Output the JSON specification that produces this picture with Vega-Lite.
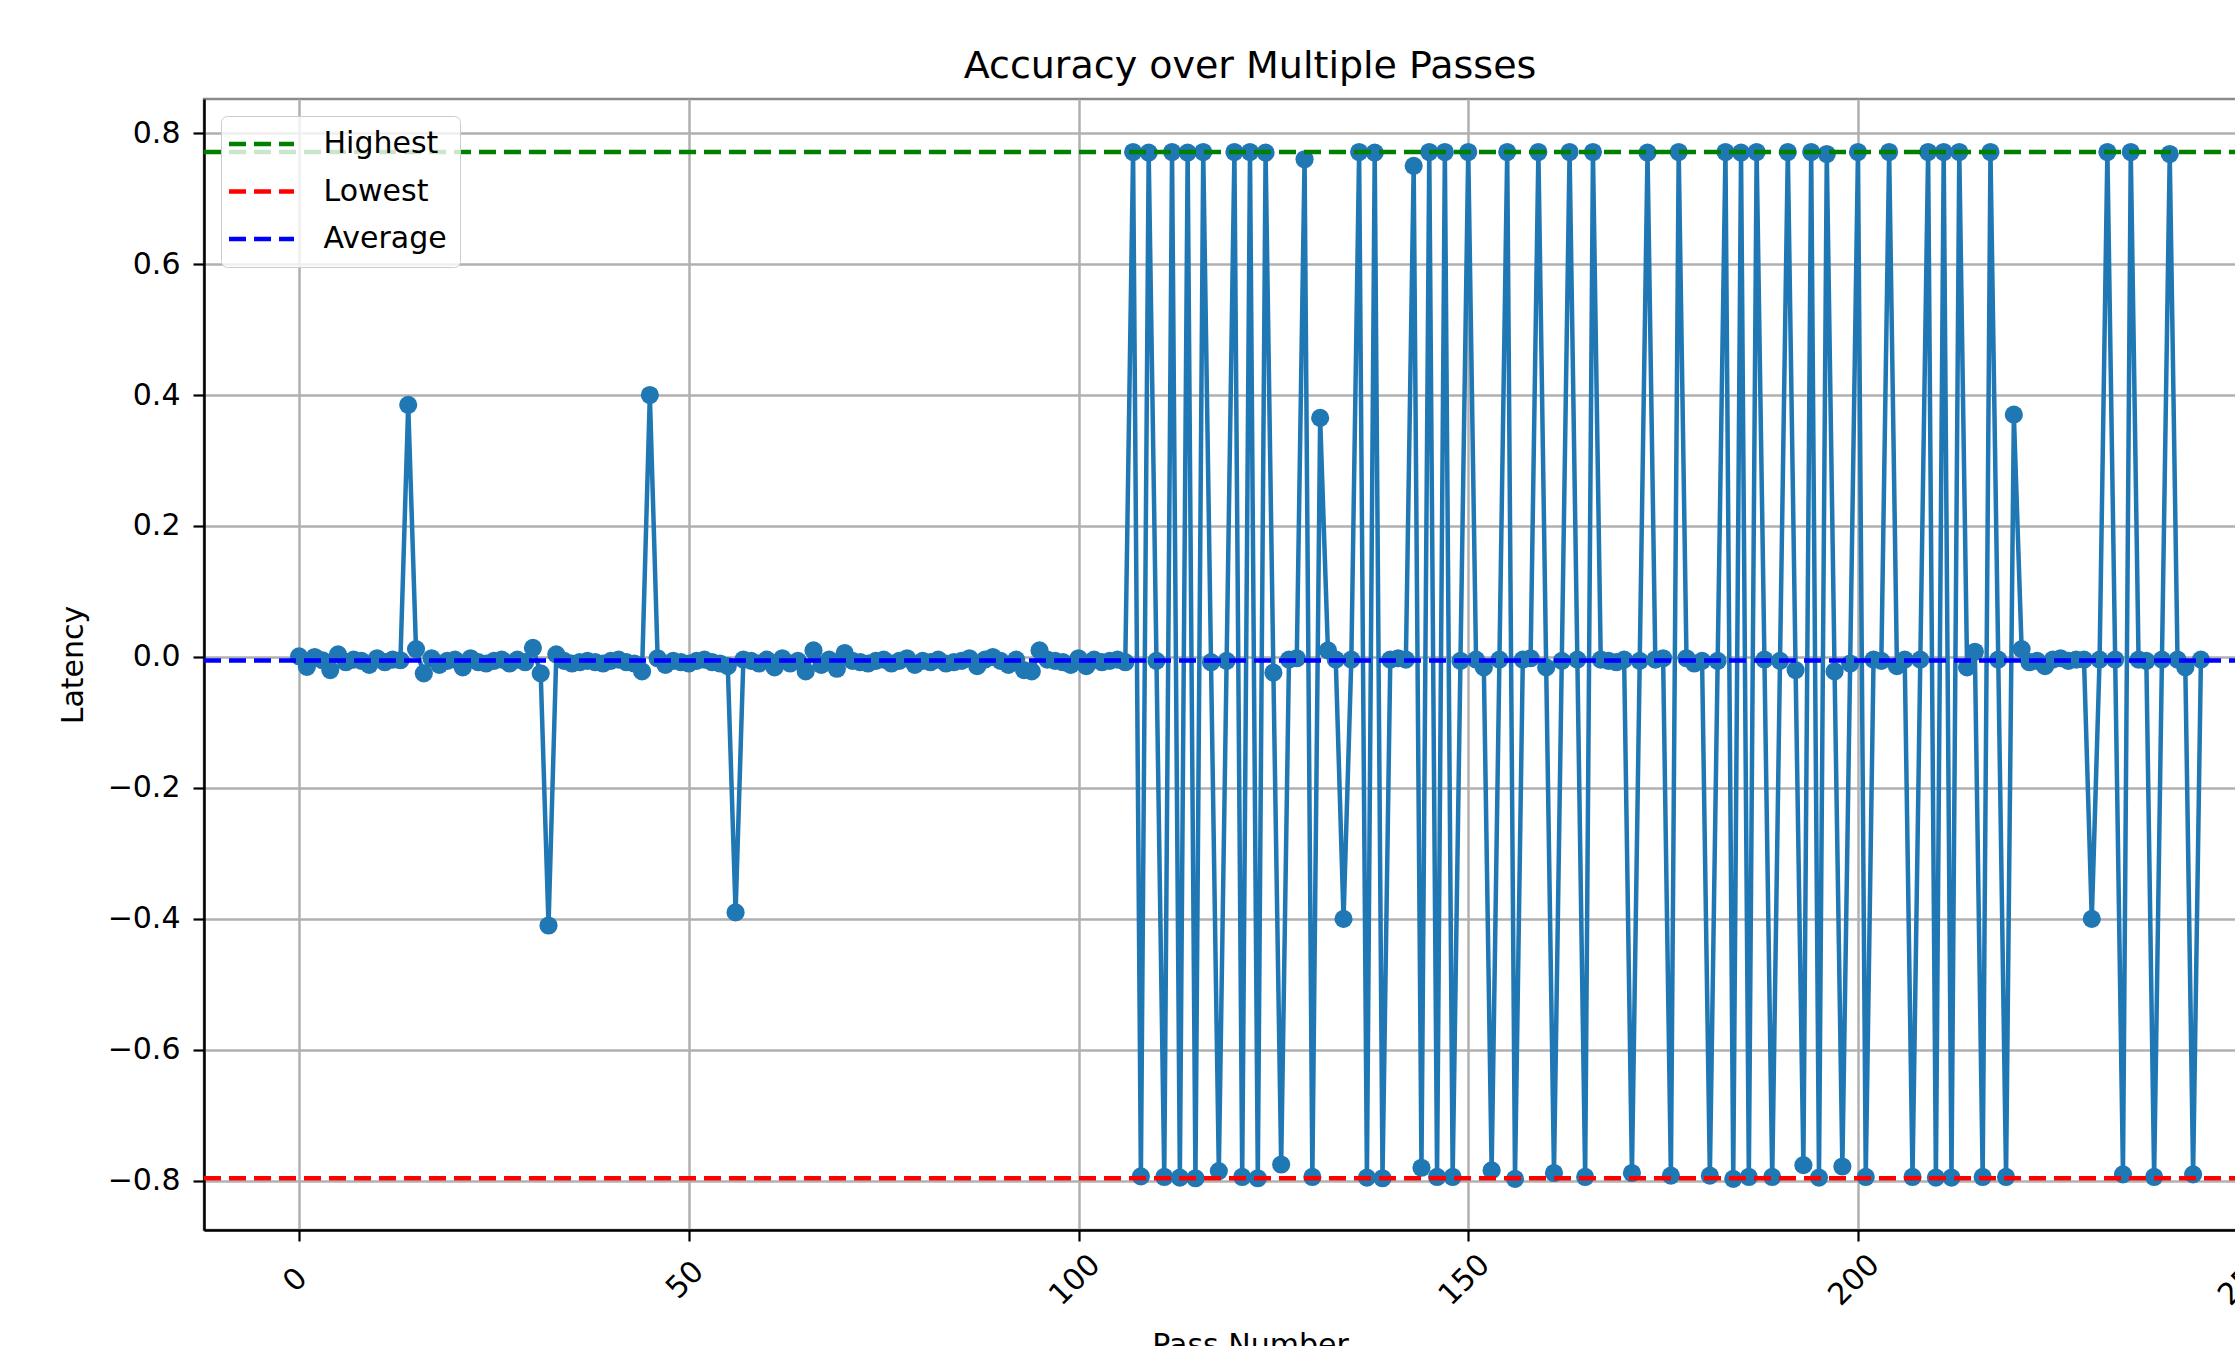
{
  "$schema": "https://vega.github.io/schema/vega-lite/v6.json",
  "autosize": {"type": "none"},
  "padding": {"left": 204, "top": 99, "right": 0, "bottom": 116},
  "width": 2092,
  "height": 1131,
  "background": "white",
  "title": {"text": "Accuracy over Multiple Passes", "fontSize": 38, "font": "DejaVu Sans", "fontWeight": "normal", "color": "#000000", "anchor": "middle", "frame": "group", "offset": 20, "dy": 37, "baseline": "alphabetic"},
  "config": {
    "font": "DejaVu Sans",
    "view": {"stroke": "#8a8a8a", "strokeWidth": 2.5},
    "axis": {
      "labelFont": "DejaVu Sans", "titleFont": "DejaVu Sans",
      "labelFontSize": 30, "titleFontSize": 30, "titleFontWeight": "normal",
      "labelColor": "#000000", "titleColor": "#000000",
      "domainColor": "#000000", "domainWidth": 2.5,
      "tickColor": "#000000", "tickWidth": 2.2, "tickSize": 11,
      "gridColor": "#b0b0b0", "gridWidth": 2.5, "grid": true
    },
    "legend": {"labelFont": "DejaVu Sans"}
  },
  "datasets": {
    "passes": [
      {"pass":0,"latency":0.001},{"pass":1,"latency":-0.015},{"pass":2,"latency":0.0},{"pass":3,"latency":-0.005},{"pass":4,"latency":-0.02},{"pass":5,"latency":0.004},{"pass":6,"latency":-0.008},{"pass":7,"latency":-0.004},{"pass":8,"latency":-0.006},{"pass":9,"latency":-0.012},
      {"pass":10,"latency":-0.002},{"pass":11,"latency":-0.008},{"pass":12,"latency":-0.004},{"pass":13,"latency":-0.005},{"pass":14,"latency":0.385},{"pass":15,"latency":0.012},{"pass":16,"latency":-0.025},{"pass":17,"latency":-0.002},{"pass":18,"latency":-0.012},{"pass":19,"latency":-0.006},
      {"pass":20,"latency":-0.004},{"pass":21,"latency":-0.016},{"pass":22,"latency":-0.002},{"pass":23,"latency":-0.008},{"pass":24,"latency":-0.01},{"pass":25,"latency":-0.006},{"pass":26,"latency":-0.004},{"pass":27,"latency":-0.01},{"pass":28,"latency":-0.004},{"pass":29,"latency":-0.008},
      {"pass":30,"latency":0.014},{"pass":31,"latency":-0.025},{"pass":32,"latency":-0.41},{"pass":33,"latency":0.004},{"pass":34,"latency":-0.006},{"pass":35,"latency":-0.01},{"pass":36,"latency":-0.008},{"pass":37,"latency":-0.006},{"pass":38,"latency":-0.008},{"pass":39,"latency":-0.01},
      {"pass":40,"latency":-0.006},{"pass":41,"latency":-0.004},{"pass":42,"latency":-0.008},{"pass":43,"latency":-0.01},{"pass":44,"latency":-0.022},{"pass":45,"latency":0.4},{"pass":46,"latency":-0.002},{"pass":47,"latency":-0.012},{"pass":48,"latency":-0.006},{"pass":49,"latency":-0.008},
      {"pass":50,"latency":-0.01},{"pass":51,"latency":-0.006},{"pass":52,"latency":-0.004},{"pass":53,"latency":-0.008},{"pass":54,"latency":-0.01},{"pass":55,"latency":-0.014},{"pass":56,"latency":-0.39},{"pass":57,"latency":-0.004},{"pass":58,"latency":-0.006},{"pass":59,"latency":-0.01},
      {"pass":60,"latency":-0.004},{"pass":61,"latency":-0.016},{"pass":62,"latency":-0.002},{"pass":63,"latency":-0.01},{"pass":64,"latency":-0.006},{"pass":65,"latency":-0.022},{"pass":66,"latency":0.01},{"pass":67,"latency":-0.012},{"pass":68,"latency":-0.004},{"pass":69,"latency":-0.018},
      {"pass":70,"latency":0.006},{"pass":71,"latency":-0.006},{"pass":72,"latency":-0.008},{"pass":73,"latency":-0.01},{"pass":74,"latency":-0.006},{"pass":75,"latency":-0.004},{"pass":76,"latency":-0.01},{"pass":77,"latency":-0.006},{"pass":78,"latency":-0.002},{"pass":79,"latency":-0.012},
      {"pass":80,"latency":-0.006},{"pass":81,"latency":-0.008},{"pass":82,"latency":-0.004},{"pass":83,"latency":-0.01},{"pass":84,"latency":-0.008},{"pass":85,"latency":-0.006},{"pass":86,"latency":-0.002},{"pass":87,"latency":-0.014},{"pass":88,"latency":-0.004},{"pass":89,"latency":0.0},
      {"pass":90,"latency":-0.006},{"pass":91,"latency":-0.012},{"pass":92,"latency":-0.004},{"pass":93,"latency":-0.02},{"pass":94,"latency":-0.022},{"pass":95,"latency":0.01},{"pass":96,"latency":-0.004},{"pass":97,"latency":-0.006},{"pass":98,"latency":-0.008},{"pass":99,"latency":-0.012},
      {"pass":100,"latency":-0.002},{"pass":101,"latency":-0.014},{"pass":102,"latency":-0.004},{"pass":103,"latency":-0.008},{"pass":104,"latency":-0.006},{"pass":105,"latency":-0.004},{"pass":106,"latency":-0.008},{"pass":107,"latency":0.771},{"pass":108,"latency":-0.793},{"pass":109,"latency":0.77},
      {"pass":110,"latency":-0.006},{"pass":111,"latency":-0.794},{"pass":112,"latency":0.771},{"pass":113,"latency":-0.795},{"pass":114,"latency":0.77},{"pass":115,"latency":-0.796},{"pass":116,"latency":0.771},{"pass":117,"latency":-0.008},{"pass":118,"latency":-0.785},{"pass":119,"latency":-0.006},
      {"pass":120,"latency":0.771},{"pass":121,"latency":-0.794},{"pass":122,"latency":0.771},{"pass":123,"latency":-0.796},{"pass":124,"latency":0.77},{"pass":125,"latency":-0.024},{"pass":126,"latency":-0.775},{"pass":127,"latency":-0.004},{"pass":128,"latency":-0.002},{"pass":129,"latency":0.76},
      {"pass":130,"latency":-0.794},{"pass":131,"latency":0.365},{"pass":132,"latency":0.01},{"pass":133,"latency":-0.004},{"pass":134,"latency":-0.4},{"pass":135,"latency":-0.004},{"pass":136,"latency":0.771},{"pass":137,"latency":-0.795},{"pass":138,"latency":0.77},{"pass":139,"latency":-0.796},
      {"pass":140,"latency":-0.004},{"pass":141,"latency":-0.002},{"pass":142,"latency":-0.004},{"pass":143,"latency":0.75},{"pass":144,"latency":-0.78},{"pass":145,"latency":0.771},{"pass":146,"latency":-0.794},{"pass":147,"latency":0.771},{"pass":148,"latency":-0.794},{"pass":149,"latency":-0.006},
      {"pass":150,"latency":0.771},{"pass":151,"latency":-0.004},{"pass":152,"latency":-0.016},{"pass":153,"latency":-0.784},{"pass":154,"latency":-0.004},{"pass":155,"latency":0.771},{"pass":156,"latency":-0.797},{"pass":157,"latency":-0.004},{"pass":158,"latency":-0.002},{"pass":159,"latency":0.771},
      {"pass":160,"latency":-0.016},{"pass":161,"latency":-0.788},{"pass":162,"latency":-0.006},{"pass":163,"latency":0.771},{"pass":164,"latency":-0.004},{"pass":165,"latency":-0.794},{"pass":166,"latency":0.771},{"pass":167,"latency":-0.004},{"pass":168,"latency":-0.006},{"pass":169,"latency":-0.008},
      {"pass":170,"latency":-0.004},{"pass":171,"latency":-0.788},{"pass":172,"latency":-0.006},{"pass":173,"latency":0.77},{"pass":174,"latency":-0.004},{"pass":175,"latency":-0.002},{"pass":176,"latency":-0.792},{"pass":177,"latency":0.771},{"pass":178,"latency":-0.002},{"pass":179,"latency":-0.01},
      {"pass":180,"latency":-0.006},{"pass":181,"latency":-0.792},{"pass":182,"latency":-0.006},{"pass":183,"latency":0.771},{"pass":184,"latency":-0.797},{"pass":185,"latency":0.77},{"pass":186,"latency":-0.794},{"pass":187,"latency":0.771},{"pass":188,"latency":-0.004},{"pass":189,"latency":-0.794},
      {"pass":190,"latency":-0.006},{"pass":191,"latency":0.771},{"pass":192,"latency":-0.02},{"pass":193,"latency":-0.776},{"pass":194,"latency":0.771},{"pass":195,"latency":-0.795},{"pass":196,"latency":0.768},{"pass":197,"latency":-0.022},{"pass":198,"latency":-0.778},{"pass":199,"latency":-0.01},
      {"pass":200,"latency":0.771},{"pass":201,"latency":-0.794},{"pass":202,"latency":-0.004},{"pass":203,"latency":-0.006},{"pass":204,"latency":0.771},{"pass":205,"latency":-0.014},{"pass":206,"latency":-0.004},{"pass":207,"latency":-0.794},{"pass":208,"latency":-0.004},{"pass":209,"latency":0.771},
      {"pass":210,"latency":-0.795},{"pass":211,"latency":0.771},{"pass":212,"latency":-0.795},{"pass":213,"latency":0.771},{"pass":214,"latency":-0.016},{"pass":215,"latency":0.008},{"pass":216,"latency":-0.794},{"pass":217,"latency":0.771},{"pass":218,"latency":-0.004},{"pass":219,"latency":-0.794},
      {"pass":220,"latency":0.37},{"pass":221,"latency":0.012},{"pass":222,"latency":-0.008},{"pass":223,"latency":-0.006},{"pass":224,"latency":-0.014},{"pass":225,"latency":-0.004},{"pass":226,"latency":-0.002},{"pass":227,"latency":-0.006},{"pass":228,"latency":-0.004},{"pass":229,"latency":-0.004},
      {"pass":230,"latency":-0.4},{"pass":231,"latency":-0.004},{"pass":232,"latency":0.771},{"pass":233,"latency":-0.004},{"pass":234,"latency":-0.79},{"pass":235,"latency":0.771},{"pass":236,"latency":-0.004},{"pass":237,"latency":-0.006},{"pass":238,"latency":-0.794},{"pass":239,"latency":-0.004},
      {"pass":240,"latency":0.768},{"pass":241,"latency":-0.004},{"pass":242,"latency":-0.016},{"pass":243,"latency":-0.79},{"pass":244,"latency":-0.004}
    ],
    "refs": [
      {"line": "Highest", "value": 0.7712},
      {"line": "Lowest", "value": -0.796},
      {"line": "Average", "value": -0.0055}
    ]
  },
  "layer": [
    {
      "data": {"name": "passes"},
      "mark": {"type": "line", "color": "#1f77b4", "strokeWidth": 4.5, "strokeJoin": "round",
               "point": {"filled": true, "size": 330, "color": "#1f77b4", "opacity": 1}},
      "encoding": {
        "x": {"field": "pass", "type": "quantitative",
              "scale": {"domain": [-12.2, 256.2], "nice": false, "zero": false},
              "axis": {"values": [0, 50, 100, 150, 200, 250], "labelAngle": -45, "labelAlign": "center", "labelBaseline": "middle",
                       "labelPadding": 39, "labelOffset": -4, "title": "Pass Number",
                       "titleX": 1046, "titleY": 100, "titleBaseline": "top", "titleAlign": "center"}},
        "y": {"field": "latency", "type": "quantitative",
              "scale": {"domain": [-0.875, 0.852], "nice": false, "zero": false},
              "axis": {"values": [-0.8, -0.6, -0.4, -0.2, 0, 0.2, 0.4, 0.6, 0.8], "format": ".1f", "labelPadding": 13,
                       "title": "Latency", "titleX": -131, "titleY": 565.5, "titleAngle": -90, "titleAlign": "center", "titleBaseline": "middle"}}
      }
    },
    {
      "data": {"name": "refs"},
      "mark": {"type": "rule", "strokeDash": [17, 8], "strokeWidth": 4.5},
      "encoding": {
        "y": {"field": "value", "type": "quantitative", "title": "Latency"},
        "color": {"field": "line", "type": "nominal",
                  "scale": {"domain": ["Highest", "Lowest", "Average"], "range": ["#008000", "#ff0000", "#0000ff"]},
                  "legend": {"title": null, "orient": "top-left", "offset": 17,
                             "symbolType": "M-2.6,0L2.6,0", "symbolSize": 625, "symbolStrokeWidth": 4.5, "symbolDash": [17, 8],
                             "symbolFillColor": "transparent", "symbolOffset": 12.5, "labelOffset": 47,
                             "labelFontSize": 30, "labelColor": "#000000", "padding": 13, "rowPadding": 17.5,
                             "fillColor": "rgba(255,255,255,0.8)", "strokeColor": "#cccccc", "cornerRadius": 6}}
      }
    }
  ]
}
